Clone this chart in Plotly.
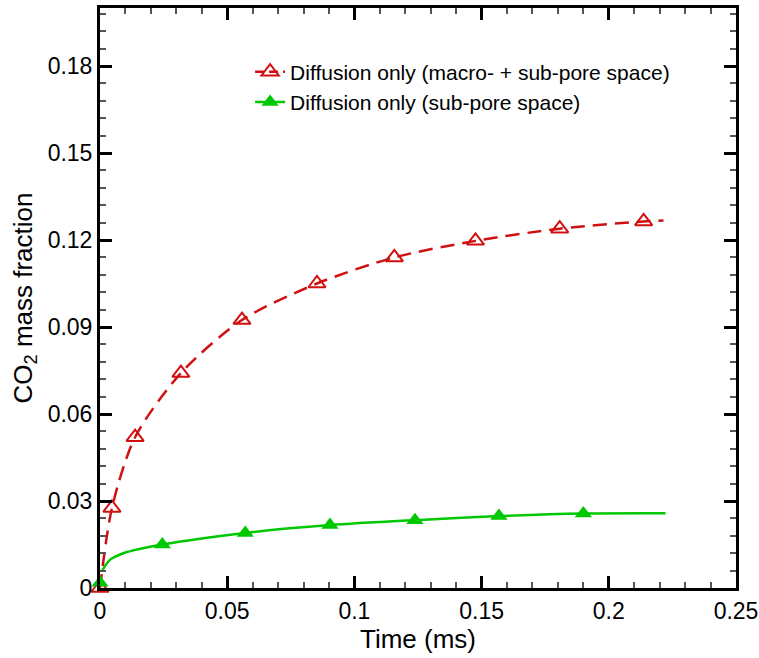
import plotly.graph_objects as go

# Red: diffusion only (macro- + sub-pore space)
red_t = [0.0, 0.0047, 0.0138, 0.0318, 0.0558, 0.0853, 0.1157, 0.1476, 0.1807, 0.2137, 0.2215]
red_c = [0.0, 0.0276, 0.0520, 0.0741, 0.0924, 0.1050, 0.1140, 0.1197, 0.1239, 0.1264, 0.1267]
red_mk_t = [0.0047, 0.0138, 0.0318, 0.0558, 0.0853, 0.1157, 0.1476, 0.1807, 0.2137]
red_mk_c = [0.0276, 0.0520, 0.0741, 0.0924, 0.1050, 0.1140, 0.1197, 0.1239, 0.1264]

# Green: diffusion only (sub-pore space)
green_t = [0.0007, 0.0039, 0.0092, 0.0245, 0.0571, 0.0904, 0.1238, 0.1568, 0.1900, 0.2223]
green_c = [0.0058, 0.0097, 0.0120, 0.0150, 0.0190, 0.0217, 0.0234, 0.0248, 0.0257, 0.0258]
green_mk_t = [0.0245, 0.0571, 0.0904, 0.1238, 0.1568, 0.1900]
green_mk_c = [0.0150, 0.0190, 0.0217, 0.0234, 0.0248, 0.0257]

origin_t = [0.0]
origin_red = [0.0]
origin_green = [0.0018]

series_names = ["Diffusion only (macro- + sub-pore space)", "Diffusion only (sub-pore space)"]

RED = "rgb(208,16,16)"
GREEN = "rgb(0,200,0)"
FONT = "Liberation Sans, Arial, sans-serif"
RED_DASH = "14px,8px"

red_marker = dict(symbol="triangle-up-open", size=15, color=RED, line=dict(color=RED, width=2))
green_marker = dict(symbol="triangle-up", size=15, color=GREEN, line=dict(width=0))

fig = go.Figure()
# curves
fig.add_trace(go.Scatter(x=red_t, y=red_c, mode="lines",
                         line=dict(color=RED, width=2.5, dash=RED_DASH, shape="spline", smoothing=0.8),
                         showlegend=False, hoverinfo="skip", cliponaxis=False))
fig.add_trace(go.Scatter(x=green_t, y=green_c, mode="lines",
                         line=dict(color=GREEN, width=2.5, shape="spline", smoothing=0.8),
                         showlegend=False, hoverinfo="skip", cliponaxis=False))
# markers at origin
fig.add_trace(go.Scatter(x=origin_t, y=origin_red, mode="markers", marker=red_marker,
                         showlegend=False, cliponaxis=False))
fig.add_trace(go.Scatter(x=origin_t, y=origin_green, mode="markers", marker=green_marker,
                         showlegend=False, cliponaxis=False))
# markers along curves
fig.add_trace(go.Scatter(x=red_mk_t, y=red_mk_c, mode="markers", marker=red_marker,
                         showlegend=False, cliponaxis=False))
fig.add_trace(go.Scatter(x=green_mk_t, y=green_mk_c, mode="markers", marker=green_marker,
                         showlegend=False, cliponaxis=False))
# legend entries (line + marker)
fig.add_trace(go.Scatter(x=[None], y=[None], mode="lines+markers", name=series_names[0],
                         line=dict(color=RED, width=2.5, dash="9px,5px"), marker=red_marker))
fig.add_trace(go.Scatter(x=[None], y=[None], mode="lines+markers", name=series_names[1],
                         line=dict(color=GREEN, width=2.5), marker=green_marker))

axis_common = dict(
    showline=True, linecolor="black", linewidth=3, mirror="ticks",
    ticks="inside", ticklen=12, tickwidth=3, tickcolor="black",
    showgrid=False, zeroline=False, automargin=False,
    tickfont=dict(family=FONT, size=23, color="black"),
)

fig.update_xaxes(range=[0, 0.25], tickvals=[0, 0.05, 0.1, 0.15, 0.2, 0.25],
                 ticktext=["0", "0.05", "0.1", "0.15", "0.2", "0.25"],
                 minor=dict(dtick=0.01, tick0=0, ticks="inside", ticklen=6, tickwidth=1.5, tickcolor="#555"),
                 title=dict(text="Time (ms)", font=dict(family=FONT, size=26, color="black"), standoff=5),
                 **axis_common)
fig.update_yaxes(range=[0, 0.2], tickvals=[0, 0.03, 0.06, 0.09, 0.12, 0.15, 0.18],
                 ticktext=["0", "0.03", "0.06", "0.09", "0.12", "0.15", "0.18"],
                 minor=dict(dtick=0.006, tick0=0, ticks="inside", ticklen=6, tickwidth=1.5, tickcolor="#555"),
                 title=dict(text="CO<sub>2</sub> mass fraction", font=dict(family=FONT, size=26, color="black"), standoff=8),
                 **axis_common)

fig.update_layout(
    width=759, height=658,
    margin=dict(l=100, r=23, t=8, b=70),
    plot_bgcolor="white", paper_bgcolor="white",
    showlegend=True,
    legend=dict(x=0.236, y=0.925, xanchor="left", yanchor="top",
                bgcolor="rgba(0,0,0,0)", borderwidth=0,
                font=dict(family=FONT, size=21, color="black"),
                tracegroupgap=0),
)

fig.write_html("out.html")
